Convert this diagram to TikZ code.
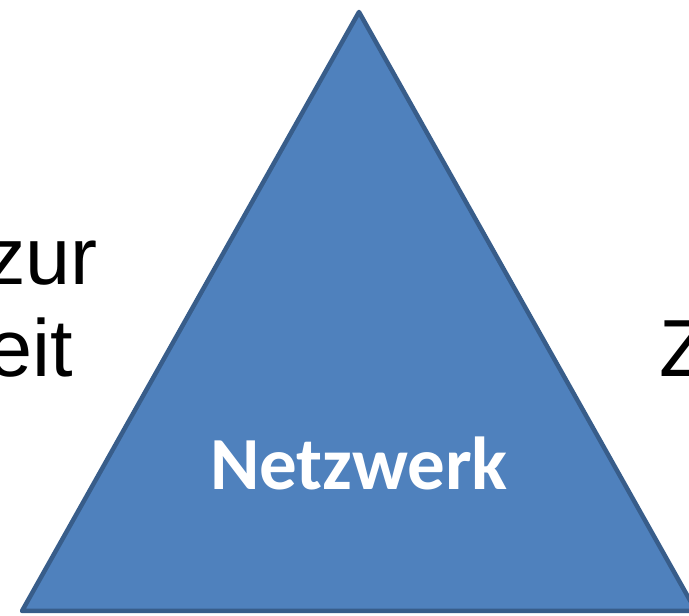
\documentclass[tikz,border=0pt]{standalone}
\usepackage{fontspec}
\setmainfont{Liberation Sans}
\newfontfamily\calib{Carlito}
\definecolor{trifill}{HTML}{4F81BD}
\definecolor{triedge}{HTML}{385D8A}
\tikzset{
  tri/.style={fill=trifill, draw=triedge, line width=4.5pt, line join=round},
  sidetext/.style={font=\fontsize{81}{92}\selectfont, text=black, inner sep=0pt},
  centertext/.style={font=\calib\bfseries\fontsize{75}{90}\selectfont, text=white, inner sep=0pt}
}
\begin{document}
\begin{tikzpicture}[x=1pt,y=1pt]
\useasboundingbox (0,0) rectangle (689,616);
\clip (0,0) rectangle (689,616);
\coordinate (apex) at (359,604);
\coordinate (bl) at (22,5);
\coordinate (br) at (696,5);
\draw[tri] (apex) -- (bl) -- (br) -- cycle;
\node[centertext, anchor=base] (net) at (359,126) {Netzwerk};
\node[sidetext, anchor=base east] (zur) at (98,331) {zur};
\node[sidetext, anchor=base east] (eit) at (73,239) {eit};
\node[sidetext, anchor=base west] (z) at (659,239) {Z};
\end{tikzpicture}
\end{document}
